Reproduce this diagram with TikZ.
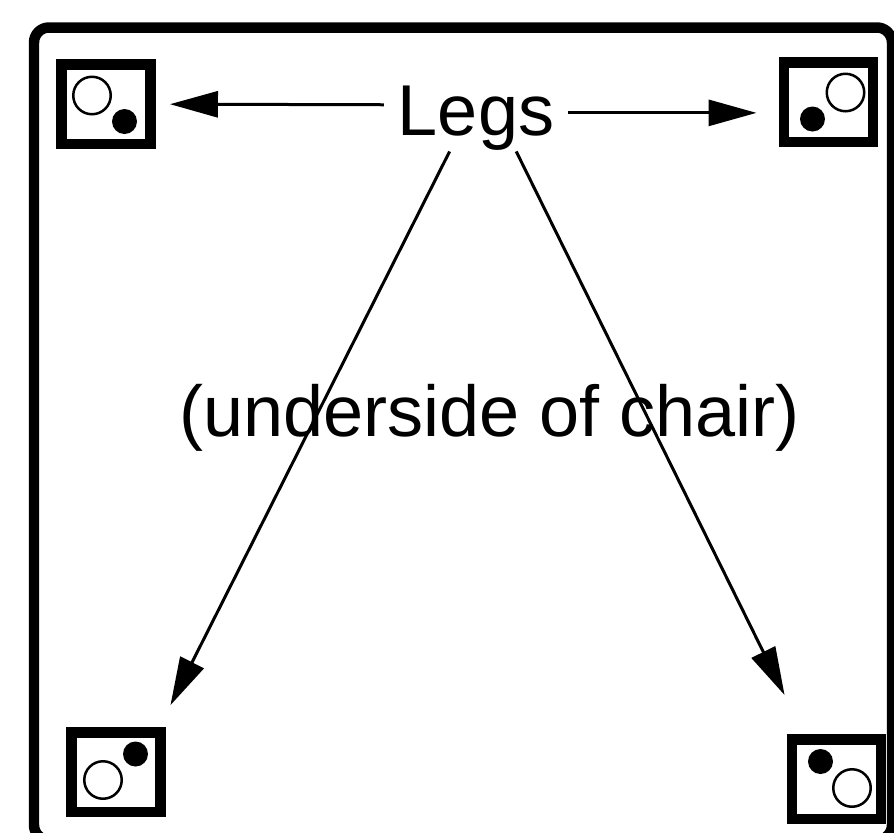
\documentclass[tikz,border=0pt]{standalone}
\usepackage{fontspec}
\setmainfont{Liberation Sans}
\usepackage{tikz}
\usetikzlibrary{arrows.meta}
\tikzset{font=\fontsize{41}{49}\selectfont}

\begin{document}
\begin{tikzpicture}[x=0.02cm,y=-0.02cm,line width=0.06cm,
    >={Triangle[length=0.96cm,width=0.52cm]},
    legbox/.style={draw,line width=0.21cm,minimum width=1.79cm,minimum height=1.59cm,inner sep=0},
    hole/.style={circle,draw,line width=0.05cm,minimum size=0.75cm,inner sep=0},
    foot/.style={circle,fill,minimum size=0.5cm,inner sep=0}]
      \useasboundingbox (0,0) rectangle (894,833);
      \draw[line width=0.21cm,rounded corners=0.3cm] (34,27.5) rectangle (892,840);

      \node[legbox] (L0) at (106,104) {};
      \node[hole] (H0) at (92,95.5) {};
      \node[foot] (F0) at (124.5,121.5) {};

      \node[legbox] (L1) at (828.5,102) {};
      \node[hole] (H1) at (845.5,92.5) {};
      \node[foot] (F1) at (812.5,119) {};

      \node[legbox] (L2) at (116,772) {};
      \node[hole] (H2) at (103,780) {};
      \node[foot] (F2) at (135.5,754) {};

      \node[legbox] (L3) at (836.5,779) {};
      \node[hole] (H3) at (852,788) {};
      \node[foot] (F3) at (820.5,761.5) {};

      \node[anchor=base,inner xsep=0.25cm,inner ysep=0] (Legs) at (476,135) {Legs};
      \node[anchor=base] (U) at (489.5,436) {(underside of chair)};

      \path [->](Legs.172) edge[shorten >=0.28cm] (L0);
      \path [->](Legs.3) edge[shorten >=0.44cm] (Legs.3 -| L1.west);
      \path [->](Legs.232) edge[shorten >=0.49cm] (L2.46);
      \path [->](Legs.320) edge[shorten >=0.87cm] (L3.126);
  \end{tikzpicture}
\end{document}
